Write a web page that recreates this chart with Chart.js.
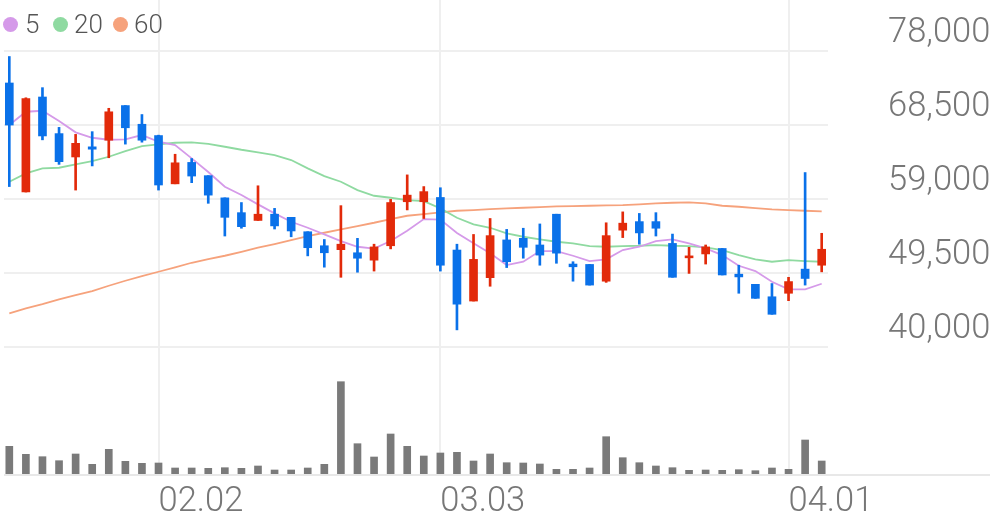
<!DOCTYPE html>
<html><head><meta charset="utf-8">
<script src="https://cdn.jsdelivr.net/npm/chart.js@4/dist/chart.umd.min.js"></script>
<style>
html,body{margin:0;padding:0;background:#fff;}
#wrap{position:relative;width:996px;height:519px;}
#legend{position:absolute;left:0;top:0;width:200px;height:50px;font-family:Roboto,sans-serif;font-weight:300;font-size:26px;color:#555;}
#legend .dot{position:absolute;width:15px;height:15px;border-radius:50%;top:17px;}
#legend .lab{position:absolute;top:9px;line-height:30px;}
</style></head><body>
<div id="wrap"><canvas id="c" width="996" height="519"></canvas><div id="legend"></div></div>
<script>
// trading dates (categories)
const dates = ['01.20','01.21','01.22','01.23','01.26','01.27','01.28','01.29','01.30',
 '02.02','02.03','02.04','02.05','02.06','02.09','02.10','02.11','02.12','02.13','02.19','02.20',
 '02.23','02.24','02.25','02.26','02.27','03.03','03.04','03.05','03.06','03.09','03.10','03.11',
 '03.12','03.13','03.16','03.17','03.18','03.19','03.20','03.23','03.24','03.25','03.26','03.27',
 '03.30','03.31','04.01','04.02','04.03'];
const tickDates = ['02.02','03.03','04.01'];
const priceTicks = [40000, 49500, 59000, 68500, 78000];

const open  = [73900,59900,72100,67400,64400,65700,66550,71000,68600,67150,60950,63700,62000,59150,57250,56250,57050,56650,54800,53000,52500,52100,51150,53000,58650,58650,59200,52450,45900,48900,53750,53950,53100,57050,50650,50600,48450,55000,56100,56100,53300,51450,51950,52650,49350,48050,46450,46900,50000,50500];
const high  = [77300,72000,73300,68200,67300,67650,70650,71000,69850,67200,64750,64200,62000,59150,58550,60700,57800,56650,54800,53800,58150,53950,53200,58950,62100,60600,60450,53200,54450,56500,55100,55250,55800,57050,50950,50600,55950,57350,57150,57250,54500,52800,53100,52650,50500,48050,48150,48950,62400,54600];
const low   = [60600,59900,66600,63450,60150,63250,64300,66050,66300,60150,60950,61100,58450,54250,55250,56250,55150,54150,51700,50250,48950,49600,49750,52600,57600,56500,49750,42200,45900,47800,50200,51400,50500,50750,48450,47950,48300,54050,53200,54250,48950,49450,50650,49250,46900,46250,44200,45950,47950,49650];
const close = [68500,71900,67100,63800,66150,65400,70200,68150,66550,60800,63650,61950,59500,56650,55450,57050,55550,54900,52750,52100,53200,51400,52850,58550,59500,59950,50500,45500,51250,54300,50950,52800,51800,52050,50300,47950,54300,55900,54650,55250,48950,51700,52850,49250,49000,46250,44200,48400,48800,52550];
const volume = [287000,207000,183000,143000,210000,107000,257000,137000,117000,120000,70000,70000,67000,73000,67000,90000,50000,50000,70000,107000,933000,313000,180000,410000,287000,190000,220000,227000,140000,210000,123000,120000,110000,57000,57000,70000,383000,173000,123000,90000,73000,47000,50000,47000,53000,43000,70000,57000,350000,140000];
const ma5  = [68498,70206,70335,69012,67561,66868,66611,66662,67214,66354,65930,64223,62464,60576,59510,58316,57161,56082,55312,54464,53604,52872,52641,53604,54927,56429,56365,54631,53309,52025,50522,50946,52320,52320,51717,51036,51254,52448,52872,53604,53822,53309,52667,51806,50433,49752,48378,47402,47402,48121];
const ma20 = [61218,62297,62939,63016,63452,63876,64428,65160,65802,66020,66226,66277,66084,65712,65327,64993,64646,64004,62939,61950,61218,60152,59421,59164,58868,58740,57803,56596,55748,55312,54593,54156,53822,53514,53309,52962,52872,52962,53001,53090,53001,52962,52795,52448,51806,51254,50946,51164,51036,50946];
const ma60 = [44321,44963,45515,46118,46670,47184,47865,48507,49110,49662,50227,50818,51293,51717,52230,52744,53219,53732,54246,54670,55106,55530,55954,56429,56853,57071,57289,57495,57584,57713,57803,57880,57970,58059,58098,58137,58188,58226,58316,58445,58522,58573,58445,58137,58008,57841,57674,57584,57495,57417];
const maNames = ['5','20','60'];
const maColors = ['#d59ae9','#8fdaa1','#f6a27c'];

const UP = '#e22a0a', DOWN = '#0a71e9';
const candleColors = close.map((c,i) => c >= open[i] ? UP : DOWN);
const pts = arr => arr.map((v,i) => ({x:i, y:v}));

// legend (HTML text)
const lg = document.getElementById('legend');
const dotX = [3, 53, 113], labX = [25, 74, 134];
maNames.forEach((n,k) => {
  const d = document.createElement('span'); d.className='dot'; d.style.left=dotX[k]+'px'; d.style.background=maColors[k]; lg.appendChild(d);
  const t = document.createElement('span'); t.className='lab'; t.style.left=labX[k]+'px'; t.textContent=n; lg.appendChild(t);
});

const baseLine = {
  id:'baseLine',
  afterDatasetsDraw(chart){
    const {ctx, chartArea} = chart;
    ctx.save(); ctx.strokeStyle='#e8e8e8'; ctx.lineWidth=2;
    ctx.beginPath(); ctx.moveTo(chartArea.left, chartArea.bottom); ctx.lineTo(chart.width-6, chartArea.bottom); ctx.stroke();
    ctx.restore();
  }
};

const FONT = {family:'Roboto', size:34.5, weight:'300'};

new Chart(document.getElementById('c'), {
  data: {
    datasets: [
      {type:'bar', label:'body', data: open.map((o,i)=>({x:i, y:[o, close[i]]})), backgroundColor:candleColors, barThickness:8, grouped:false, yAxisID:'y', order:0},
      {type:'bar', label:'wick', data: low.map((l,i)=>({x:i, y:[l, high[i]]})), backgroundColor:candleColors, barThickness:2, grouped:false, yAxisID:'y', order:1},
      {type:'line', label:maNames[0], data:pts(ma5), borderColor:maColors[0], borderWidth:1.8, pointRadius:0, yAxisID:'y', order:2},
      {type:'line', label:maNames[1], data:pts(ma20), borderColor:maColors[1], borderWidth:1.8, pointRadius:0, yAxisID:'y', order:3},
      {type:'line', label:maNames[2], data:pts(ma60), borderColor:maColors[2], borderWidth:1.8, pointRadius:0, yAxisID:'y', order:4},
      {type:'bar', label:'volume', data:pts(volume), backgroundColor:'#7a7a7a', barThickness:7, grouped:false, yAxisID:'yv', order:5}
    ]
  },
  options: {
    responsive:false, animation:false,
    layout:{padding:{left:4, right:0, top:0, bottom:0}},
    plugins:{legend:{display:false}, tooltip:{enabled:false}},
    scales:{
      x:{type:'linear', min:-0.32, max:49.38, offset:false,
         afterBuildTicks:s=>{ s.ticks = tickDates.map(d=>({value:dates.indexOf(d)})); },
         afterFit:s=>{ s.height = 44; s.paddingLeft = 0; s.paddingRight = 0; },
         grid:{color:'#efefef', lineWidth:2, drawTicks:false, offset:false}, border:{display:false},
         ticks:{autoSkip:false, maxRotation:0, align:'start', padding:7, color:'#777', font:FONT,
                callback:v=>dates[v]}},
      y:{type:'linear', position:'right', min:23565, max:84555,
         afterBuildTicks:s=>{ s.ticks = priceTicks.map(v=>({value:v})); },
         afterFit:s=>{ s.width = 168; s.paddingTop = 0; s.paddingBottom = 0; },
         grid:{color:'#efefef', lineWidth:2, drawTicks:false}, border:{display:false},
         ticks:{padding:60, labelOffset:-18, color:'#777', font:FONT,
                callback:v=>v.toLocaleString('en-US')}},
      yv:{type:'linear', display:false, min:0, max:4750000}
    }
  },
  plugins:[baseLine]
});
</script>
</body></html>
